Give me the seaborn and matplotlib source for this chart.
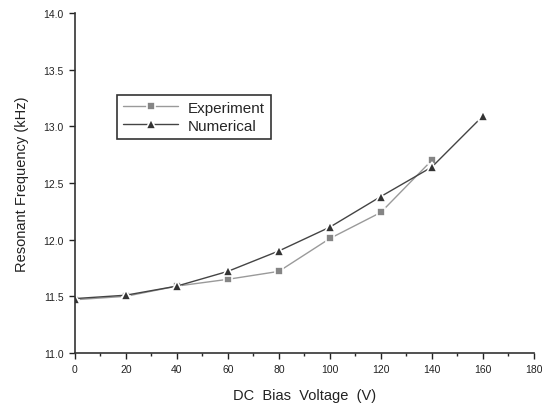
import pandas as pd
import seaborn as sns
from matplotlib import pyplot as plt

voltage = [0, 20, 40, 60, 80, 100, 120, 140, 160]
experiment = [11.47, 11.50, 11.59, 11.65, 11.72, 12.01, 12.24, 12.70, None]
numerical = [11.48, 11.51, 11.59, 11.72, 11.90, 12.11, 12.38, 12.64, 13.09]

df = pd.DataFrame({'voltage': voltage, 'Experiment': experiment, 'Numerical': numerical})

sns.set_style("ticks")
plt.rcParams['font.family'] = ['Liberation Sans', 'DejaVu Sans']

fig = plt.figure(figsize=(5.42, 4.06), dpi=100)
ax = fig.add_axes([0.138, 0.128, 0.847, 0.838])

sns.lineplot(data=df.dropna(subset=['Experiment']), x='voltage', y='Experiment', ax=ax,
             color='#9a9a9a', marker='s', markersize=6, markerfacecolor='#858585',
             markeredgecolor='white', markeredgewidth=1.2, linewidth=1, label='Experiment')
sns.lineplot(data=df, x='voltage', y='Numerical', ax=ax,
             color='#444444', marker='^', markersize=7.5, markerfacecolor='#333333',
             markeredgecolor='white', markeredgewidth=1.2, linewidth=1, label='Numerical')

ax.set_xlim(0, 180)
ax.set_ylim(11.0, 14.0)
ax.set_xticks(range(0, 181, 20))
ax.set_xticks(range(10, 180, 20), minor=True)
ax.set_yticks([11.0, 11.5, 12.0, 12.5, 13.0, 13.5, 14.0])
ax.set_yticklabels(['11.0', '11.5', '12.0', '12.5', '13.0', '13.5', '14.0'])
ax.tick_params(axis='both', labelsize=7.5, colors='#222222', length=4, width=1, pad=4)
ax.tick_params(axis='x', which='minor', length=2.5, width=1)
ax.set_xlabel('DC  Bias  Voltage  (V)', fontsize=10.5, labelpad=10, color='#222222')
ax.set_ylabel('Resonant Frequency (kHz)', fontsize=10.5, labelpad=10, color='#222222')
for s in ['left', 'bottom']:
    ax.spines[s].set_linewidth(1.2)
    ax.spines[s].set_color('#333333')
sns.despine(ax=ax)

leg = ax.legend(loc='upper left', bbox_to_anchor=(0.076, 0.782), fontsize=11,
                frameon=True, fancybox=False, edgecolor='black', handlelength=3.6,
                borderpad=0.4, labelspacing=0.25, handletextpad=0.6)
leg.get_frame().set_linewidth(1.2)

fig.savefig('out.png', dpi=100)
